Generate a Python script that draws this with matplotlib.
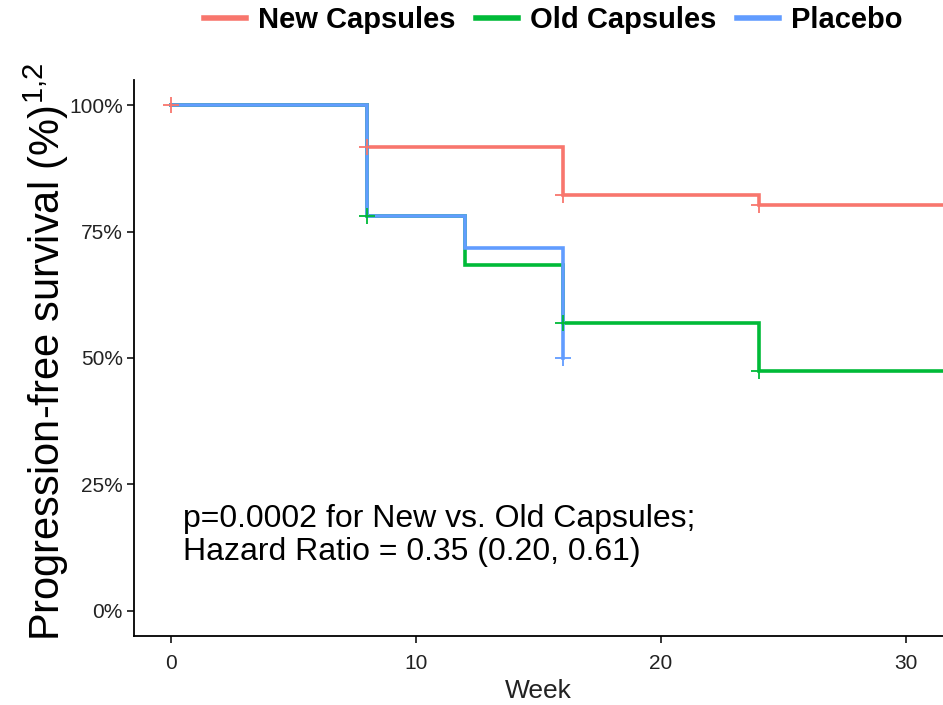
import matplotlib.pyplot as plt
from matplotlib.lines import Line2D

# Kaplan-Meier step data (week, survival %)
groups = ["New Capsules", "Old Capsules", "Placebo"]
colors = ["#F8766D", "#00BA38", "#619CFF"]

new_weeks = [0, 8, 16, 24, 32]
new_surv = [100, 91.7, 82.3, 80.2, 80.2]
new_cens_weeks = [0, 8, 16, 24]
new_cens_surv = [100, 91.7, 82.3, 80.2]

old_weeks = [0, 8, 12, 16, 24, 32]
old_surv = [100, 78.1, 68.4, 56.9, 47.4, 47.4]
old_cens_weeks = [8, 16, 24]
old_cens_surv = [78.1, 56.9, 47.4]

pla_weeks = [0, 8, 12, 16]
pla_surv = [100, 78.1, 71.7, 50.0]
pla_cens_weeks = [16]
pla_cens_surv = [50.0]

x_ticks = [0, 10, 20, 30]
y_ticks = [0, 25, 50, 75, 100]
y_tick_labels = ["0%", "25%", "50%", "75%", "100%"]

annot = "p=0.0002 for New vs. Old Capsules;\nHazard Ratio = 0.35 (0.20, 0.61)"

plt.rcParams['font.family'] = ['Liberation Sans', 'DejaVu Sans']
plt.rcParams['mathtext.fontset'] = 'custom'
plt.rcParams['mathtext.rm'] = 'Liberation Sans'
plt.rcParams['mathtext.it'] = 'Liberation Sans'

fig = plt.figure(figsize=(9.43, 7.05), dpi=100)
ax = fig.add_axes([0.142, 0.098, 0.858, 0.7885])

series = [
    (new_weeks, new_surv, new_cens_weeks, new_cens_surv),
    (old_weeks, old_surv, old_cens_weeks, old_cens_surv),
    (pla_weeks, pla_surv, pla_cens_weeks, pla_cens_surv),
]

for (wk, sv, cw, cs), col in zip(series, colors):
    ax.step(wk, sv, where='post', color=col, lw=2.6, zorder=2,
            solid_joinstyle='miter')
for (wk, sv, cw, cs), col in zip(series, colors):
    ax.plot(cw, cs, linestyle='none', marker='+', markersize=11,
            markeredgewidth=1.3, color=col, zorder=3)

ax.set_xlim(-1.5, 31.5)
ax.set_ylim(-5, 105)
ax.set_xticks(x_ticks)
ax.set_yticks(y_ticks)
ax.set_yticklabels(y_tick_labels)

narrow = ['Liberation Sans Narrow', 'Liberation Sans', 'DejaVu Sans']
for lab in ax.get_xticklabels() + ax.get_yticklabels():
    lab.set_family(narrow)
    lab.set_fontsize(15)
    lab.set_color('#222222')

ax.tick_params(direction='out', length=5, width=1.1, color='black')
ax.tick_params(axis='x', pad=8)
ax.tick_params(axis='y', pad=3)
for side in ['top', 'right']:
    ax.spines[side].set_visible(False)
for side in ['left', 'bottom']:
    ax.spines[side].set_linewidth(1.3)
    ax.spines[side].set_color('black')

ax.set_xlabel("Week", fontsize=19, family=narrow, color='#222222', labelpad=4)
ax.set_ylabel(r"Progression-free survival (%)$^{1{,}2}$", fontsize=30)
ax.yaxis.set_label_coords(-0.078, 0.51)

ax.text(0.5, 14.8, annot, fontsize=23, va='center', ha='left',
        linespacing=1.13, color='black')

handles = [Line2D([0], [0], color=c, lw=4) for c in colors]
fig.legend(handles, groups, loc='center', bbox_to_anchor=(0.5865, 0.9716),
           ncol=3, frameon=False, handlelength=1.45, handletextpad=0.4,
           columnspacing=0.7, prop={'weight': 'bold', 'size': 21})

fig.savefig("out.png", dpi=100)
